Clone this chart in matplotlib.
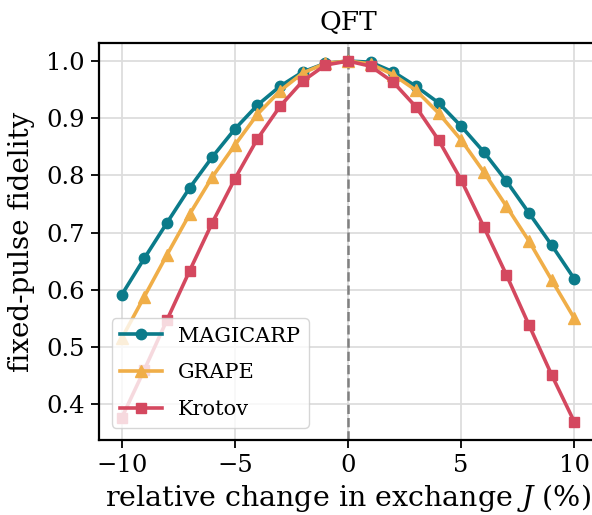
import matplotlib
matplotlib.use("Agg")
import matplotlib.pyplot as plt
import numpy as np

plt.rcParams['font.family'] = ['DejaVu Serif']
plt.rcParams['mathtext.fontset'] = 'dejavuserif'

x = [-10, -9, -8, -7, -6, -5, -4, -3, -2, -1, 0, 1, 2, 3, 4, 5, 6, 7, 8, 9, 10]
magicarp = [0.591, 0.655, 0.717, 0.778, 0.832, 0.881, 0.923, 0.956, 0.981, 0.996, 1.0,
            0.998, 0.981, 0.956, 0.927, 0.886, 0.841, 0.790, 0.734, 0.678, 0.619]
grape = [0.515, 0.588, 0.661, 0.732, 0.797, 0.853, 0.907, 0.948, 0.979, 0.996, 1.0,
         0.995, 0.976, 0.949, 0.909, 0.862, 0.806, 0.746, 0.685, 0.617, 0.550]
krotov = [0.376, 0.460, 0.547, 0.633, 0.717, 0.794, 0.864, 0.921, 0.965, 0.993, 1.0,
          0.991, 0.963, 0.920, 0.862, 0.792, 0.710, 0.626, 0.538, 0.451, 0.369]

fig = plt.figure(figsize=(5.92, 5.15), dpi=100)
ax = fig.add_axes([99/592, 1-440/515, (597-99)/592, (440-43)/515])

ax.axvline(0, color='gray', linestyle='--', linewidth=1.8, zorder=1)
ax.plot(x, magicarp, '-o', color='#0b7b8a', lw=2.6, ms=7.5, label='MAGICARP', zorder=3)
ax.plot(x, grape, '-^', color='#f0ae48', lw=2.6, ms=8, label='GRAPE', zorder=3)
ax.plot(x, krotov, '-s', color='#d4485f', lw=2.6, ms=7.5, label='Krotov', zorder=3)

ax.set_xlim(-11, 11)
ax.set_xticks([-10, -5, 0, 5, 10])
ax.set_yticks([0.4, 0.5, 0.6, 0.7, 0.8, 0.9, 1.0])
ax.grid(True, color='#dddddd', linewidth=1.3)
ax.set_axisbelow(True)
ax.tick_params(labelsize=17.5, length=6, width=1.3, pad=4)
for s in ax.spines.values():
    s.set_linewidth(1.6)

ax.set_xlabel('relative change in exchange $J$ (%)', fontsize=20.5, labelpad=4)
ax.set_ylabel('fixed-pulse fidelity', fontsize=20, labelpad=8)
ax.set_title('QFT', fontsize=19, pad=9)
ax.legend(loc='lower left', fontsize=15, framealpha=0.8, borderaxespad=0.6,
          labelspacing=0.85, handlelength=2.0)

fig.savefig('out.png', dpi=100)
